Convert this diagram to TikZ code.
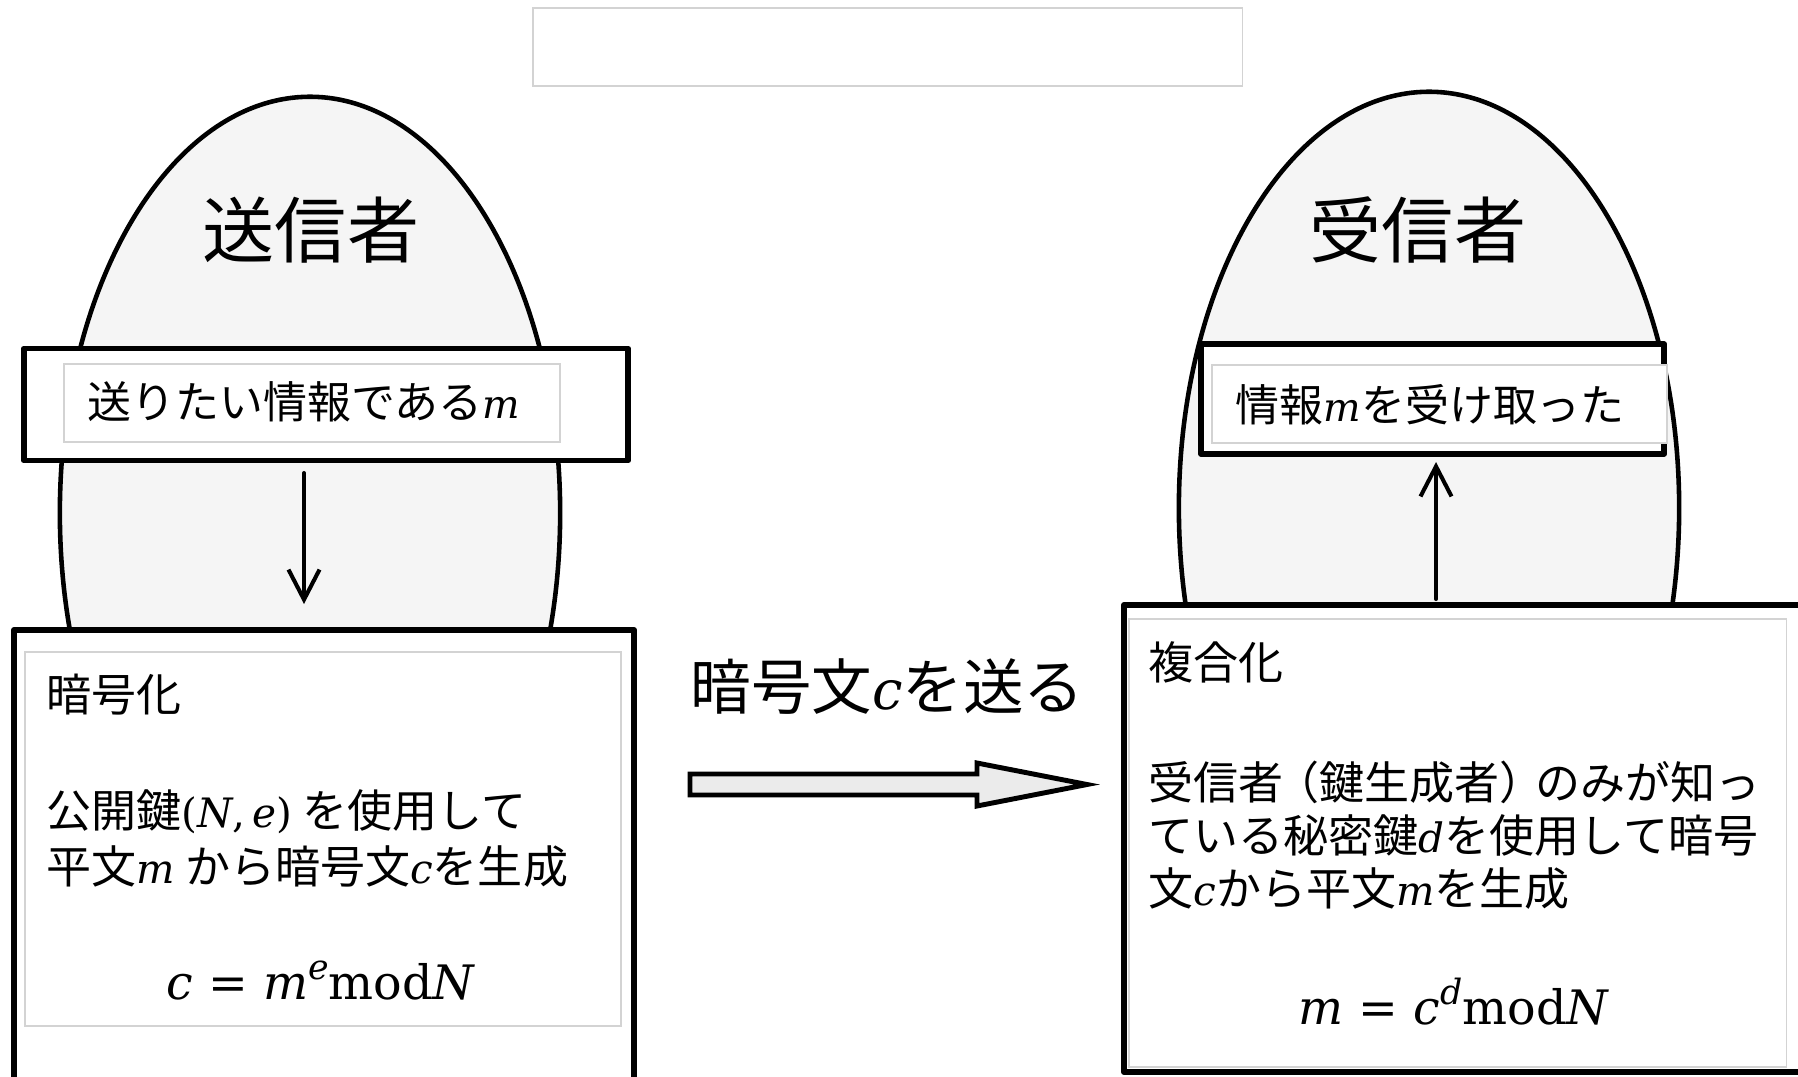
\documentclass[tikz,border=0pt]{standalone}
\usepackage[no-math]{fontspec}
\setmainfont{Noto Sans CJK JP}
\newfontfamily\mathfnt{DejaVu Serif}[Scale=0.9]
\newcommand{\mv}[1]{{\mathfnt\itshape #1}}
\newcommand{\supv}[1]{\raisebox{0.42em}{\fontsize{11}{11}\selectfont\mathfnt\itshape #1}}
\usetikzlibrary{arrows.meta,shapes.geometric}
\definecolor{eggfill}{HTML}{F5F5F5}
\definecolor{faint}{HTML}{D3D3D3}
\definecolor{arrfill}{HTML}{EBEBEB}
\begin{document}
\begin{tikzpicture}[x=0.01cm,y=-0.01cm,
  egg/.style={draw=black, line width=1.3pt, fill=eggfill, ellipse, inner sep=0pt,
    minimum width=5cm, minimum height=8.32cm},
  bigbox/.style={draw=black, line width=1.55pt, fill=white, line join=round, inner sep=0pt},
  faintbox/.style={draw=faint, line width=0.4pt, fill=white, inner sep=0pt},
  titletext/.style={font=\fontsize{20.5}{24}\selectfont, inner sep=0pt},
  bodytext/.style={font=\fontsize{12.8}{16.2}\selectfont, inner sep=0pt, anchor=west, align=left},
  boxtext/.style={font=\fontsize{12.5}{15}\selectfont, inner sep=0pt, anchor=west},
  formula/.style={font=\fontsize{15}{18}\selectfont, inner sep=0pt, anchor=base},
  sendtext/.style={font=\fontsize{17.2}{20}\selectfont, inner sep=0pt, anchor=west},
  thinarrow/.style={line width=1.15pt, line cap=round, line join=round,
    -{Straight Barb[length=0.3cm, width=0.31cm]}},
  blockarrow/.style={draw=black, line width=1.4pt, fill=arrfill, line join=miter}
]
\useasboundingbox (0,0) rectangle (1798,1076);

% top empty box
\node[faintbox, minimum width=7.09cm, minimum height=0.78cm] (topbox) at (887.5,47) {};

% people
\node[egg] (sender) at (310,513) {};
\node[egg] (receiver) at (1429,508) {};
\node[titletext] (sendertitle) at (311,230) {送信者};
\node[titletext] (receivertitle) at (1418,230) {受信者};

% sender boxes
\node[bigbox, minimum width=6.04cm, minimum height=1.12cm] (lup) at (326,404.5) {};
\node[faintbox, minimum width=4.96cm, minimum height=0.78cm] (lupin) at (312,403) {};
\node[boxtext] (luptext) at (87,402) {送りたい情報である\mv{m}};

\node[bigbox, minimum width=6.2cm, minimum height=4.5cm] (ldown) at (324,855) {};
\node[faintbox, minimum width=5.96cm, minimum height=3.74cm] (ldownin) at (323,839) {};
\node[bodytext] (enchead) at (46,695) {暗号化};
\node[bodytext] (encbody) at (46,838.5) {公開鍵{\mathfnt(\textit{N},\,\textit{e})} を使用して\\平文\mv{m} から暗号文\mv{c}を生成};
\node[formula] (encformula) at (321,999) {\mathfnt\textit{c} = \textit{m}\supv{e}mod\textit{N}};

% receiver boxes
\node[bigbox, minimum width=4.63cm, minimum height=1.1cm] (rup) at (1432.5,399) {};
\node[faintbox, minimum width=4.55cm, minimum height=0.78cm] (rupin) at (1439.5,404) {};
\node[boxtext] (ruptext) at (1235,405) {情報\mv{m}を受け取った};

\node[bigbox, minimum width=6.86cm, minimum height=4.67cm] (rdown) at (1467,838.5) {};
\node[faintbox, minimum width=6.57cm, minimum height=4.48cm] (rdownin) at (1457.5,843) {};
\node[bodytext] (dechead) at (1148,662) {複合化};
\node[bodytext, font=\fontsize{12.8}{15.1}\selectfont] (decbody) at (1148,835) {受信者\kern-0.2em（鍵生成者）\kern-0.2em のみが知っ\\ている秘密鍵\mv{d}を使用して暗号\\文\mv{c}から平文\mv{m}を生成};
\node[formula] (decformula) at (1454,1024) {\mathfnt\textit{m} = \textit{c}\supv{d}mod\textit{N}};

% inner arrows
\coordinate (downstart) at (304,473);
\coordinate (downend) at (304,604);
\draw[thinarrow] (downstart) -- (downend);
\coordinate (upstart) at (1436,599);
\coordinate (upend) at (1436,462);
\draw[thinarrow] (upstart) -- (upend);

% sending arrow
\node[sendtext] (sendlabel) at (690,687) {暗号文\mv{c}を送る};
\coordinate (sa1) at (690,774);
\coordinate (sa2) at (977,774);
\coordinate (sa3) at (977,763);
\coordinate (sa4) at (1087,784.5);
\coordinate (sa5) at (977,806);
\coordinate (sa6) at (977,795);
\coordinate (sa7) at (690,795);
\draw[blockarrow] (sa1) -- (sa2) -- (sa3) -- (sa4) -- (sa5) -- (sa6) -- (sa7) -- cycle;
\end{tikzpicture}
\end{document}
